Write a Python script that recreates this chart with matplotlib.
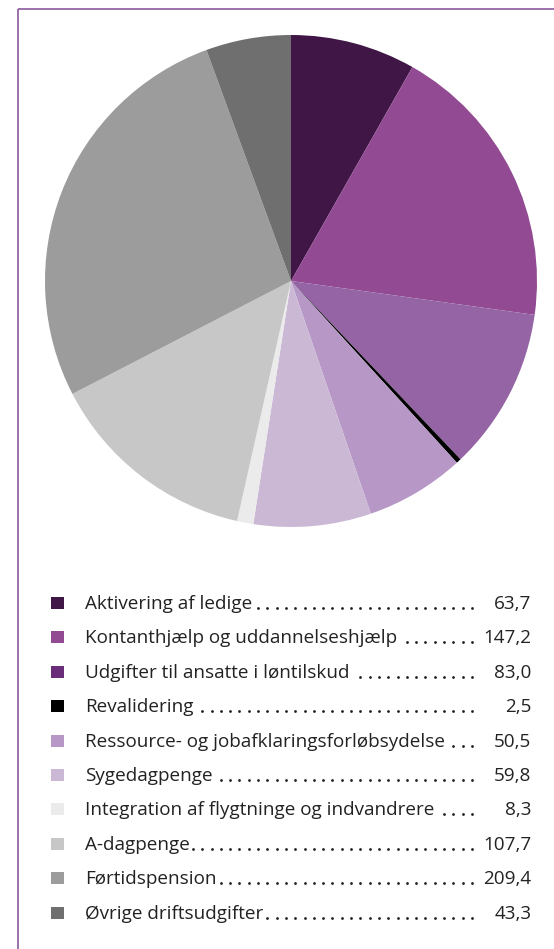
import numpy as np
import matplotlib.pyplot as plt
from matplotlib.patches import Rectangle

# Data

labels = ['Aktivering af ledige',
          'Kontanthjælp og uddannelseshjælp',
          'Udgifter til ansatte i løntilskud',
          'Revalidering',
          'Ressource- og jobafklaringsforløbsydelse',
          'Sygedagpenge',
          'Integration af flygtninge og indvandrere',
          'A-dagpenge',
          'Førtidspension',
          'Øvrige driftsudgifter']
values = [63.7, 147.2, 83.0, 2.5, 50.5, 59.8, 8.3, 107.7, 209.4, 43.3]
pie_colors = ['#3f1646', '#924a92', '#9464a4', '#000000', '#b797c6',
              '#cbb8d5', '#ebebeb', '#c6c7c6', '#9c9c9c', '#6f6f6f']
legend_colors = ['#3f1646', '#924a92', '#6a2d7a', '#000000', '#b797c6',
                 '#cbb8d5', '#ebebeb', '#c6c7c6', '#9c9c9c', '#6f6f6f']

W, H = 554, 949
fig = plt.figure(figsize=(W / 100, H / 100), dpi=100)
plt.rcParams['font.family'] = ['Open Sans', 'DejaVu Sans']

# Pie

ax = fig.add_axes([45 / W, 1 - 527 / H, 492 / W, 492 / H])
ax.pie(values, colors=pie_colors, startangle=90, counterclock=False,
       radius=1, wedgeprops=dict(linewidth=0))
ax.set_xlim(-1, 1)
ax.set_ylim(-1, 1)
ax.set_aspect('equal')
ax.axis('off')

# Legend in pixel coordinates

lg = fig.add_axes([0, 0, 1, 1], zorder=-1)
lg.set_xlim(0, W)
lg.set_ylim(H, 0)
lg.axis('off')

# frame lines
border = '#8a5a9c'
lg.plot([17.5, W], [9, 9], color=border, lw=1.2, solid_capstyle='butt')
lg.plot([17.5, 17.5], [9, H], color=border, lw=1.2, solid_capstyle='butt')

text_color = '#222222'
fs = 13.6
renderer = fig.canvas.get_renderer()
row0, step = 603, 34.4
for i, (lab, val) in enumerate(zip(labels, values)):
    yc = row0 + step * i
    lg.add_patch(Rectangle((51, yc - 6), 13, 12, color=legend_colors[i], lw=0))
    t = lg.text(85, yc + 6, lab, fontsize=fs, color=text_color, va='baseline', ha='left')
    lg.text(531.5, yc + 6, f'{val:.1f}'.replace('.', ','), fontsize=fs,
            color=text_color, va='baseline', ha='right')
    end = t.get_window_extent(renderer).x1
    xs = []
    x = 472
    while x > end + 3:
        xs.append(x)
        x -= 9.3
    lg.plot(xs, [yc + 5] * len(xs), ls='none', marker='o', ms=2.0,
            color=text_color, mew=0)

fig.savefig('out.png', dpi=100)
